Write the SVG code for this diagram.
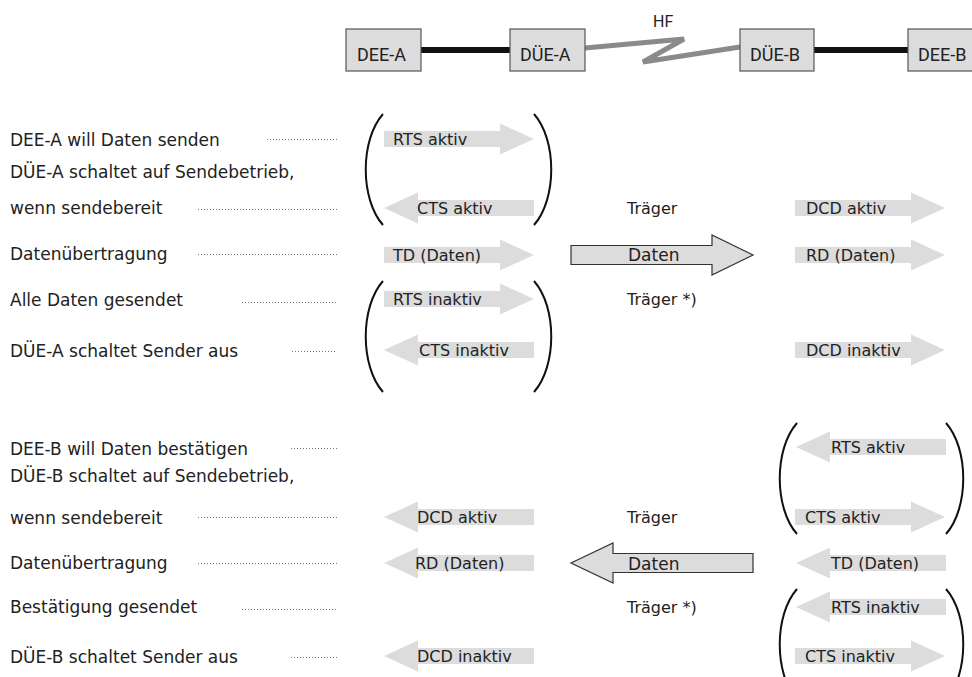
<svg xmlns="http://www.w3.org/2000/svg" width="972" height="677" viewBox="0 0 972 677">
<style>
.lbl{font-family:"DejaVu Sans","Liberation Sans",sans-serif;font-size:17px;fill:#222}
.al{font-family:"DejaVu Sans","Liberation Sans",sans-serif;font-size:16px;fill:#222}
.bx{font-family:Roboto,"Liberation Sans",sans-serif;font-size:18px;fill:#222}
.box{fill:#dcdcdc;stroke:#555;stroke-width:1.2}
.ga{fill:#dcdcdc;stroke:none}
.big{fill:#dcdcdc;stroke:#333;stroke-width:1.2}
.par{fill:none;stroke:#111;stroke-width:2}
.dot{stroke:#777;stroke-width:1;stroke-dasharray:1 2;fill:none}
.wire{stroke:#111;stroke-width:6}
</style>
<defs>
<path id="ar" d="M0,-8 H116 V-15.5 L150,0 L116,15.5 V8 H0 Z"/>
<path id="al" d="M150,-8 H34 V-15.5 L0,0 L34,15.5 V8 H150 Z"/>
<path id="pl" d="M19,0 C-4,26 -4,85 19,111"/>
<path id="pr" d="M0,0 C23,26 23,85 0,111"/>
</defs>
<rect width="972" height="677" fill="#fff"/>

<g id="connectors">
<line class="wire" x1="421" y1="50" x2="510" y2="50"/>
<line class="wire" x1="814" y1="50" x2="908" y2="50"/>
<polyline points="585,48 684,39 643,62 740,47" fill="none" stroke="#8a8a8a" stroke-width="5" stroke-linejoin="miter"/>
<line class="dot" x1="267" y1="139.5" x2="337" y2="139.5"/>
<line class="dot" x1="198" y1="209.5" x2="337" y2="209.5"/>
<line class="dot" x1="198" y1="254.5" x2="337" y2="254.5"/>
<line class="dot" x1="242" y1="302.5" x2="337" y2="302.5"/>
<line class="dot" x1="292" y1="351.5" x2="337" y2="351.5"/>
<line class="dot" x1="291" y1="448.5" x2="337" y2="448.5"/>
<line class="dot" x1="198" y1="517.5" x2="337" y2="517.5"/>
<line class="dot" x1="198" y1="563.5" x2="337" y2="563.5"/>
<line class="dot" x1="242" y1="609.5" x2="337" y2="609.5"/>
<line class="dot" x1="291" y1="657.5" x2="337" y2="657.5"/>
</g>

<g id="dee-a"><rect class="box" x="346" y="29" width="75" height="42"/><text class="bx" x="357" y="61">DEE-A</text></g>
<g id="due-a"><rect class="box" x="510" y="29" width="75" height="42"/><text class="bx" x="520" y="61">DÜE-A</text></g>
<g id="due-b"><rect class="box" x="740" y="29" width="74" height="42"/><text class="bx" x="750" y="61">DÜE-B</text></g>
<g id="dee-b"><rect class="box" x="908" y="29" width="75" height="42"/><text class="bx" x="918" y="61">DEE-B</text></g>
<g id="hf"><text class="bx" x="653" y="27" style="font-size:16px">HF</text></g>

<g id="labels-a">
<text class="lbl" x="10" y="146">DEE-A will Daten senden</text>
<text class="lbl" x="10" y="178">DÜE-A schaltet auf Sendebetrieb,</text>
<text class="lbl" x="10" y="214">wenn sendebereit</text>
<text class="lbl" x="10" y="260">Datenübertragung</text>
<text class="lbl" x="10" y="306">Alle Daten gesendet</text>
<text class="lbl" x="10" y="357">DÜE-A schaltet Sender aus</text>
</g>
<g id="labels-b">
<text class="lbl" x="10" y="455">DEE-B will Daten bestätigen</text>
<text class="lbl" x="10" y="482">DÜE-B schaltet auf Sendebetrieb,</text>
<text class="lbl" x="10" y="524">wenn sendebereit</text>
<text class="lbl" x="10" y="569">Datenübertragung</text>
<text class="lbl" x="10" y="613">Bestätigung gesendet</text>
<text class="lbl" x="10" y="663">DÜE-B schaltet Sender aus</text>
</g>

<g id="parens">
<use href="#pl" x="364" y="114" class="par"/>
<use href="#pr" x="534" y="114" class="par"/>
<use href="#pl" x="364" y="281" class="par"/>
<use href="#pr" x="534" y="281" class="par"/>
<use href="#pl" x="778" y="423" class="par"/>
<use href="#pr" x="946" y="423" class="par"/>
<use href="#pl" x="778" y="589" class="par"/>
<use href="#pr" x="946" y="589" class="par"/>
</g>

<g id="sig-a">
<g id="rts-aktiv-a"><use href="#ar" class="ga" x="384" y="139"/><text class="al" x="393" y="145">RTS aktiv</text></g>
<g id="cts-aktiv-a"><use href="#al" class="ga" x="384" y="208"/><text class="al" x="417" y="214">CTS aktiv</text></g>
<g id="td-a"><use href="#ar" class="ga" x="384" y="255"/><text class="al" x="393" y="261">TD (Daten)</text></g>
<g id="rts-inaktiv-a"><use href="#ar" class="ga" x="384" y="299"/><text class="al" x="393" y="305">RTS inaktiv</text></g>
<g id="cts-inaktiv-a"><use href="#al" class="ga" x="384" y="350"/><text class="al" x="419" y="356">CTS inaktiv</text></g>
<g id="traeger-a"><text class="al" x="627" y="214">Träger</text></g>
<g id="daten-a"><path class="big" d="M571,245.5 H712 V235 L753,255 L712,275 V264.5 H571 Z"/><text class="lbl" x="628" y="261">Daten</text></g>
<g id="traeger2-a"><text class="al" x="627" y="305">Träger *)</text></g>
<g id="dcd-aktiv-a"><use href="#ar" class="ga" x="795" y="208"/><text class="al" x="806" y="214">DCD aktiv</text></g>
<g id="rd-a"><use href="#ar" class="ga" x="795" y="255"/><text class="al" x="806" y="261">RD (Daten)</text></g>
<g id="dcd-inaktiv-a"><use href="#ar" class="ga" x="795" y="350"/><text class="al" x="806" y="356">DCD inaktiv</text></g>
</g>

<g id="sig-b">
<g id="rts-aktiv-b"><use href="#al" class="ga" x="796" y="447"/><text class="al" x="831" y="453">RTS aktiv</text></g>
<g id="cts-aktiv-b"><use href="#ar" class="ga" x="795" y="517"/><text class="al" x="805" y="523">CTS aktiv</text></g>
<g id="td-b"><use href="#al" class="ga" x="796" y="563"/><text class="al" x="831" y="569">TD (Daten)</text></g>
<g id="rts-inaktiv-b"><use href="#al" class="ga" x="796" y="607"/><text class="al" x="831" y="613">RTS inaktiv</text></g>
<g id="cts-inaktiv-b"><use href="#ar" class="ga" x="795" y="656"/><text class="al" x="805" y="662">CTS inaktiv</text></g>
<g id="traeger-b"><text class="al" x="627" y="523">Träger</text></g>
<g id="daten-b"><path class="big" d="M753,553.5 H613 V543 L571,563 L613,583 V572.5 H753 Z"/><text class="lbl" x="628" y="570">Daten</text></g>
<g id="traeger2-b"><text class="al" x="627" y="613">Träger *)</text></g>
<g id="dcd-aktiv-b"><use href="#al" class="ga" x="384" y="517"/><text class="al" x="417" y="523">DCD aktiv</text></g>
<g id="rd-b"><use href="#al" class="ga" x="384" y="563"/><text class="al" x="415" y="569">RD (Daten)</text></g>
<g id="dcd-inaktiv-b"><use href="#al" class="ga" x="384" y="656"/><text class="al" x="417" y="662">DCD inaktiv</text></g>
</g>
</svg>
